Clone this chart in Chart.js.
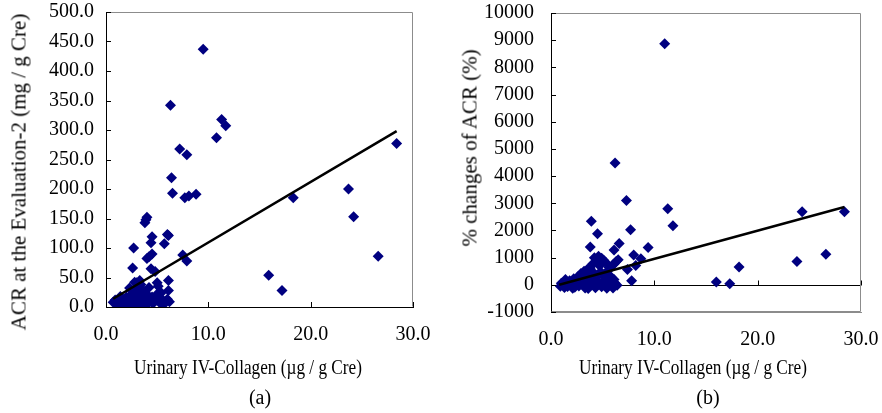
<!DOCTYPE html>
<html>
<head>
<meta charset="utf-8">
<script src="https://cdn.jsdelivr.net/npm/chart.js@4"></script>
<style>
  html, body { margin: 0; padding: 0; background: #fff; overflow: hidden; }
  body { width: 882px; height: 413px; position: relative; font-family: 'Liberation Serif', serif; color: #000; }
  .box { position: absolute; top: 0; height: 413px; }
  #boxA { left: 0; width: 440px; }
  #boxB { left: 441px; width: 451px; }
  .lbl { position: absolute; white-space: nowrap; line-height: 1; }
  .xt { font-size: 21px; transform: translate(-50%, -50%) scaleX(0.82); }
  .yt { font-size: 21px; transform: translate(-50%, -50%) rotate(-90deg); }
  .cap { font-size: 20px; transform: translate(-50%, -50%); }
</style>
</head>
<body>
<div class="box" id="boxA"><canvas id="chartA"></canvas></div>
<div class="box" id="boxB"><canvas id="chartB"></canvas></div>

<div class="lbl yt" style="left:19px; top:172px;">ACR at the Evaluation-2 (mg / g Cre)</div>
<div class="lbl yt" style="left:470px; top:148px;">% changes of ACR (%)</div>
<div class="lbl xt" style="left:248px; top:367px;">Urinary IV-Collagen (µg / g Cre)</div>
<div class="lbl xt" style="left:693px; top:367px;">Urinary IV-Collagen (µg / g Cre)</div>
<div class="lbl cap" style="left:260px; top:397px;">(a)</div>
<div class="lbl cap" style="left:708px; top:397px;">(b)</div>

<script>
// (a) ACR at Evaluation-2 vs urinary IV-collagen
const acrX = [
  9.5, 6.3, 11.3, 11.7, 10.8, 7.2, 7.9, 28.4, 6.4, 6.5, 7.7, 8.1, 8.8, 18.3, 23.7, 24.2, 26.6, 15.9, 17.2,
  3.9, 4.0, 3.8, 6.0, 6.1, 4.5, 4.4, 5.7, 2.7, 4.5, 4.2, 4.0, 7.5, 7.9, 2.6, 4.4, 4.8, 6.1, 3.3, 3.0, 5.0, 5.1, 6.1, 5.4,
  0.7, 0.9, 1.0, 1.2, 1.3, 1.5, 1.6, 1.8, 1.9, 2.0, 2.1, 2.2, 2.3, 2.4, 2.5, 2.6, 2.7, 2.8, 2.9, 3.0, 3.0, 3.1, 3.2,
  3.3, 3.4, 3.5, 3.6, 3.7, 3.8, 3.9, 4.0, 4.1, 4.2, 4.3, 4.5, 4.6, 4.8, 5.0, 5.2, 5.3, 5.5, 5.6, 5.8, 6.0, 6.2,
  2.3, 3.4, 2.8, 1.4, 2.5
];
const acrY = [
  437, 342, 318, 307, 287, 268, 258, 277, 219, 193, 185, 188, 191, 185, 200, 153, 86, 54, 28,
  148, 152, 143, 123, 121, 119, 109, 107, 100, 90, 85, 82, 88, 78, 66, 65, 60, 45, 45, 41, 41, 35, 28, 24,
  8, 12, 5, 3, 10, 6, 14, 2, 9, 17, 4, 11, 7, 20, 1, 13, 5, 25, 9, 2, 30, 15, 6,
  22, 11, 3, 18, 27, 8, 14, 4, 20, 33, 10, 17, 6, 12, 22, 8, 15, 5, 11, 7, 13, 9,
  32, 38, 42, 18, 28
];
const acrLineX = [0.7, 28.4];
const acrLineY = [14, 298];
const acrTicksY = [0, 500, 50];

// (b) % change of ACR vs urinary IV-collagen
const pctX = [
  11.0, 6.2, 7.3, 11.3, 24.3, 28.4, 11.8, 3.9, 4.5, 7.7, 6.6, 6.1, 9.4, 3.8, 8.0, 8.7, 26.6, 23.8, 18.2, 16.0, 17.3,
  7.8, 7.4, 8.2, 6.5, 6.1,
  4.2, 4.6, 4.9, 5.1, 4.4, 4.0, 5.3, 4.7, 6.3, 6.0, 5.6, 3.5, 3.8, 3.2, 2.9, 3.4, 4.1, 4.8, 5.5, 2.6, 2.2, 3.0, 3.7,
  4.4, 5.0, 5.8, 6.1, 1.8, 1.5, 1.2, 0.9, 1.0, 1.3, 1.6, 2.0, 2.3, 2.5, 2.7, 3.0, 3.3, 3.5, 3.8, 4.0, 4.3, 4.6,
  4.9, 5.2, 5.4, 5.7, 6.0, 6.2, 2.1, 3.6, 2.8, 4.5, 1.4, 3.9, 5.3, 6.4
];
const pctY = [
  8870, 4480, 3100, 2800, 2690, 2690, 2170, 2340, 1880, 2030, 1520, 1280, 1370, 1390, 1100, 960, 1120, 860, 660, 100, 40,
  150, 560, 710, 920, 770,
  1000, 1050, 980, 900, 870, 760, 820, 700, 860, 740, 650, 560, 620, 500, 420, 380, 450, 480, 520, 300, 220, 280, 250,
  320, 350, 300, 200, 150, 80, 40, -50, 60, -100, -60, 30, -90, 100, -40, 50, -120, 120, -30, 80, -110, 20,
  -70, 100, -130, 40, -120, 60, -130, -140, 180, 160, 200, 330, 200, -20
];
const pctLineX = [0.8, 28.4];
const pctLineY = [0, 2860];
const pctTicksY = [-1000, 10000, 1000];

const xTicks = [0, 30, 10];

const NAVY = '#000080';
const FONT = { family: "'Liberation Serif', 'Times New Roman', serif", size: 20 };

function pairs(xs, ys) { return xs.map((x, i) => ({ x: x, y: ys[i] })); }

// inward tick marks, grey top/right frame, optional zero line
const framePlugin = {
  id: 'frame',
  beforeDatasetsDraw(chart, args, opts) {
    if (!opts.zeroLine) return;
    const { ctx, chartArea } = chart;
    const y = Math.round(chart.scales.y.getPixelForValue(0)) + 0.5;
    ctx.save();
    ctx.strokeStyle = '#000';
    ctx.lineWidth = 1;
    ctx.beginPath();
    ctx.moveTo(chartArea.left, y);
    ctx.lineTo(chartArea.right, y);
    chart.scales.x.ticks.forEach(t => {
      if (t.value === 0) return;
      const x = Math.round(chart.scales.x.getPixelForValue(t.value)) + 0.5;
      ctx.moveTo(x, y);
      ctx.lineTo(x, y - 5);
    });
    ctx.stroke();
    ctx.restore();
  },
  afterDraw(chart, args, opts) {
    const { ctx, chartArea } = chart;
    const l = chartArea.left + 0.5, r = Math.round(chartArea.right) - 0.5;
    const t = Math.round(chartArea.top) + 0.5, b = Math.round(chartArea.bottom) - 0.5;
    ctx.save();
    ctx.lineWidth = 1;
    ctx.strokeStyle = '#8c8c8c';
    ctx.beginPath();
    ctx.moveTo(l, t); ctx.lineTo(r, t); ctx.lineTo(r, b);
    if (opts.zeroLine) ctx.lineTo(l, b);
    ctx.stroke();
    ctx.strokeStyle = '#000';
    ctx.beginPath();
    chart.scales.y.ticks.forEach(tk => {
      const y = Math.round(chart.scales.y.getPixelForValue(tk.value)) + 0.5;
      ctx.moveTo(chartArea.left, y);
      ctx.lineTo(chartArea.left + 5, y);
    });
    if (!opts.zeroLine) {
      chart.scales.x.ticks.forEach(tk => {
        if (tk.value === 0) return;
        const x = Math.round(chart.scales.x.getPixelForValue(tk.value)) + 0.5;
        ctx.moveTo(x, chartArea.bottom);
        ctx.lineTo(x, chartArea.bottom - 5);
      });
    }
    ctx.stroke();
    ctx.restore();
  }
};

function makeChart(id, cfg) {
  const ctx = document.getElementById(id).getContext('2d');
  return new Chart(ctx, {
    type: 'scatter',
    data: {
      datasets: [
        {
          data: pairs(cfg.xs, cfg.ys),
          pointStyle: 'rectRot',
          pointRadius: 5.5,
          backgroundColor: NAVY,
          borderColor: NAVY,
          borderWidth: 0,
          order: 1
        },
        {
          type: 'line',
          data: pairs(cfg.lineX, cfg.lineY),
          showLine: true,
          borderColor: '#000',
          borderWidth: 2.5,
          pointRadius: 0,
          order: 0
        }
      ]
    },
    options: {
      responsive: true,
      maintainAspectRatio: false,
      animation: false,
      layout: { padding: { top: cfg.top, right: cfg.right, left: 0, bottom: 0 } },
      plugins: {
        legend: { display: false },
        tooltip: { enabled: false },
        frame: { zeroLine: cfg.zeroLine }
      },
      scales: {
        x: {
          type: 'linear',
          min: xTicks[0], max: xTicks[1],
          ticks: { stepSize: xTicks[2], autoSkip: false, color: '#000', font: FONT, padding: 16, maxRotation: 0,
                   callback: v => v.toFixed(1) },
          grid: { display: false, drawTicks: false },
          border: { display: true, color: cfg.zeroLine ? '#8c8c8c' : '#000', width: 1 },
          afterFit: s => { s.height = cfg.xHeight; s.paddingLeft = 0; s.paddingRight = 0; }
        },
        y: {
          type: 'linear',
          min: cfg.yTicks[0], max: cfg.yTicks[1],
          ticks: { stepSize: cfg.yTicks[2], autoSkip: false, color: '#000', font: FONT, padding: cfg.yPad,
                   callback: cfg.yFmt },
          grid: { display: false, drawTicks: false },
          border: { display: true, color: '#000', width: 1 },
          afterFit: s => { s.width = cfg.yWidth; s.paddingTop = 0; s.paddingBottom = 0; }
        }
      }
    },
    plugins: [framePlugin]
  });
}

makeChart('chartA', {
  xs: acrX, ys: acrY, lineX: acrLineX, lineY: acrLineY, yTicks: acrTicksY,
  yFmt: v => v.toFixed(1), yPad: 12, yWidth: 106, xHeight: 106, top: 12, right: 27, zeroLine: false
});
makeChart('chartB', {
  xs: pctX, ys: pctY, lineX: pctLineX, lineY: pctLineY, yTicks: pctTicksY,
  yFmt: v => String(v), yPad: 17, yWidth: 110, xHeight: 101, top: 13, right: 31, zeroLine: true
});
</script>
</body>
</html>
